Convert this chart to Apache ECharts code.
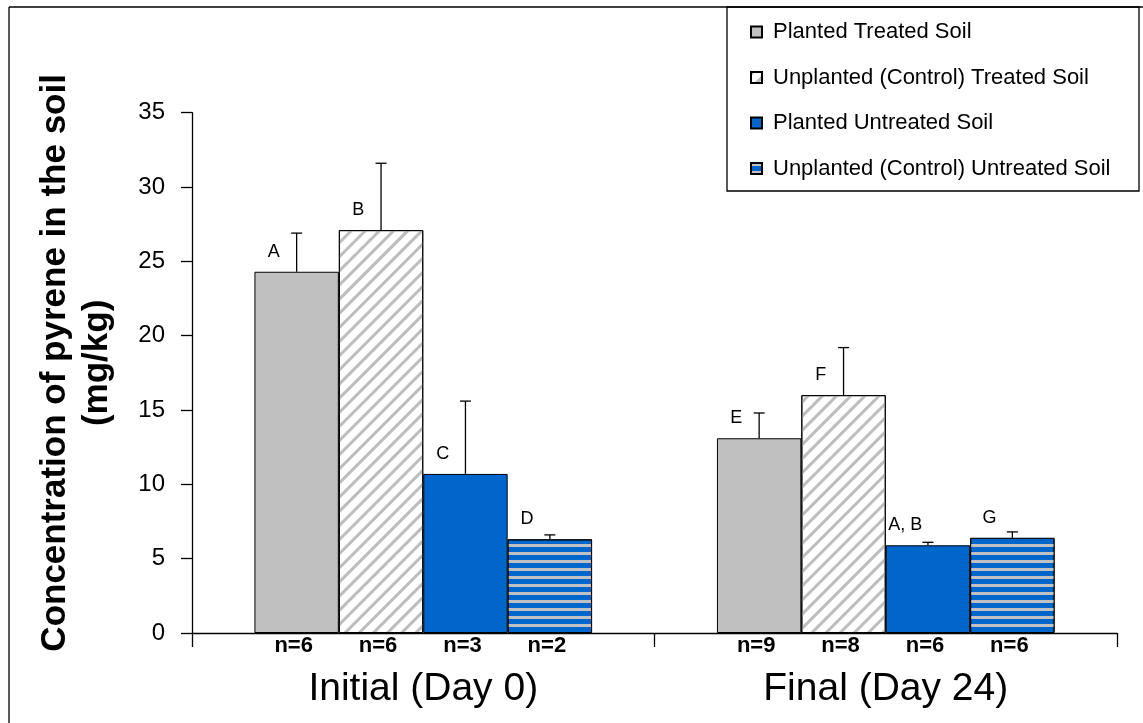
<!DOCTYPE html>
<html>
<head>
<meta charset="utf-8">
<script src="https://cdn.jsdelivr.net/npm/echarts@6/dist/echarts.min.js"></script>
<style>
html,body{margin:0;padding:0;background:#fff;}
#chart{width:1143px;height:723px;}
</style>
</head>
<body>
<div id="chart"></div>
<script>
// ---- data ----
const categories = ['Initial (Day 0)', 'Final (Day 24)'];
const seriesNames = ['Planted Treated Soil', 'Unplanted (Control) Treated Soil', 'Planted Untreated Soil', 'Unplanted (Control) Untreated Soil'];
const plantedTreated = [24.3, 13.1];
const unplantedTreated = [27.1, 16.0];
const plantedUntreated = [10.7, 5.9];
const unplantedUntreated = [6.3, 6.4];
const plantedTreatedErr = [2.6, 1.7];
const unplantedTreatedErr = [4.5, 3.2];
const plantedUntreatedErr = [4.9, 0.2];
const unplantedUntreatedErr = [0.3, 0.4];
const plantedTreatedLetters = ['A', 'E'];
const unplantedTreatedLetters = ['B', 'F'];
const plantedUntreatedLetters = ['C', 'A, B'];
const unplantedUntreatedLetters = ['D', 'G'];
const plantedTreatedN = [6, 9];
const unplantedTreatedN = [6, 8];
const plantedUntreatedN = [3, 6];
const unplantedUntreatedN = [2, 6];
const yMin = 0, yMax = 35, yStep = 5;
const yTitle = 'Concentration of pyrene in the soil\n(mg/kg)';

// ---- build ----
const FONT = '"Liberation Sans", Arial, sans-serif';
const GAP = 0.27;
const values = [plantedTreated, unplantedTreated, plantedUntreated, unplantedUntreated];
const errs = [plantedTreatedErr, unplantedTreatedErr, plantedUntreatedErr, unplantedUntreatedErr];
const letters = [plantedTreatedLetters, unplantedTreatedLetters, plantedUntreatedLetters, unplantedUntreatedLetters];
const ns = [plantedTreatedN, unplantedTreatedN, plantedUntreatedN, unplantedUntreatedN];

const GRAY = '#c0c0c0', BLUE = '#0066cc';
const styles = [
  {color: GRAY, borderColor: '#000', borderWidth: 1},
  {color: '#ffffff', borderColor: '#000', borderWidth: 1,
   decal: {symbol: 'rect', symbolSize: 1, color: '#bdbdbd', dashArrayX: [1, 0], dashArrayY: [3, 6.5], rotation: -Math.PI / 4}},
  {color: BLUE, borderColor: '#000', borderWidth: 1},
  {color: BLUE, borderColor: '#000', borderWidth: 1,
   decal: {symbol: 'rect', symbolSize: 1, color: '#c0c0c0', dashArrayX: [1, 0], dashArrayY: [3, 4.2], rotation: 0}}
];

const errData = [], nData = [];
for (let s = 0; s < 4; s++) {
  for (let c = 0; c < categories.length; c++) {
    errData.push([c, s, values[s][c], errs[s][c]]);
    nData.push([c, s, 0, ns[s][c]]);
  }
}

function barX(api, ci, si) {
  const center = api.coord([ci, 0])[0];
  const band = api.size([1, 0])[0];
  const bw = band * (1 - GAP) / 4;
  return center - 2 * bw + (si + 0.5) * bw;
}

const series = seriesNames.map((name, s) => ({
  name: name,
  type: 'bar',
  data: values[s],
  barGap: '0%',
  barCategoryGap: (GAP * 100) + '%',
  itemStyle: styles[s],
  z: 2,
  label: {
    show: true,
    formatter: p => letters[s][p.dataIndex],
    position: ['23%', -20],
    align: 'center',
    verticalAlign: 'middle',
    color: '#000',
    fontSize: 18,
    fontFamily: FONT
  },
  emphasis: {disabled: true}
}));

series.push({
  type: 'custom',
  name: 'err',
  data: errData,
  encode: {x: 0, y: 2},
  z: 5,
  silent: true,
  renderItem: function (params, api) {
    const ci = api.value(0), si = api.value(1), v = api.value(2), e = api.value(3);
    const x = barX(api, ci, si);
    const y0 = api.coord([ci, v])[1];
    const y1 = api.coord([ci, v + e])[1];
    const st = {stroke: '#000', lineWidth: 1.3};
    return {type: 'group', children: [
      {type: 'line', shape: {x1: x, y1: y0, x2: x, y2: y1}, style: st},
      {type: 'line', shape: {x1: x - 5.5, y1: y1, x2: x + 5.5, y2: y1}, style: st}
    ]};
  }
});

series.push({
  type: 'custom',
  name: 'n',
  data: nData,
  encode: {x: 0, y: 2},
  z: 5,
  silent: true,
  renderItem: function (params, api) {
    const ci = api.value(0), si = api.value(1), n = api.value(3);
    const x = barX(api, ci, si);
    const y = api.coord([ci, 0])[1];
    return {type: 'text', x: x - 3, y: y + 13, style: {
      text: 'n=' + n, fill: '#000', font: 'bold 22px ' + FONT, textAlign: 'center', textVerticalAlign: 'middle'
    }};
  }
});

const chart = echarts.init(document.getElementById('chart'));
chart.setOption({
  animation: false,
  backgroundColor: '#fff',
  grid: {left: 192, right: 26, top: 112.7, bottom: 90},
  legend: {
    orient: 'vertical',
    left: 750,
    top: 21,
    padding: 0,
    itemWidth: 11,
    itemHeight: 11,
    itemGap: 23.5,
    icon: 'rect',
    data: seriesNames,
    selectedMode: false,
    textStyle: {fontSize: 22, fontFamily: FONT, color: '#000', lineHeight: 22, padding: [0, 0, 0, 6]},
    z: 10
  },
  xAxis: {
    type: 'category',
    data: categories,
    boundaryGap: true,
    axisLine: {lineStyle: {color: '#000', width: 1.3}},
    axisTick: {show: true, length: 14, lineStyle: {color: '#000', width: 1.3}},
    axisLabel: {fontSize: 39, fontFamily: FONT, color: '#000', margin: 37}
  },
  yAxis: {
    type: 'value',
    min: yMin, max: yMax, interval: yStep,
    axisLine: {show: true, lineStyle: {color: '#000', width: 1.3}},
    axisTick: {show: true, length: 11, lineStyle: {color: '#000', width: 1.3}},
    splitLine: {show: false},
    axisLabel: {fontSize: 24, fontFamily: FONT, color: '#000', margin: 27},
    name: yTitle,
    nameLocation: 'middle',
    nameRotate: 90,
    nameGap: 74,
    nameTextStyle: {fontSize: 35, fontWeight: 'bold', fontFamily: FONT, color: '#000', lineHeight: 42, padding: [0, 0, 0, 20]}
  },
  graphic: [
    {type: 'rect', shape: {x: 727, y: 7, width: 412, height: 184}, style: {fill: '#fff', stroke: '#000', lineWidth: 1.3}, z: 1},
    {type: 'line', shape: {x1: 9, y1: 7, x2: 9, y2: 730}, style: {stroke: '#000', lineWidth: 1.3}, z: 1},
    {type: 'line', shape: {x1: 9, y1: 7, x2: 1150, y2: 7}, style: {stroke: '#000', lineWidth: 1.3}, z: 1}
  ],
  series: series
});
</script>
</body>
</html>
